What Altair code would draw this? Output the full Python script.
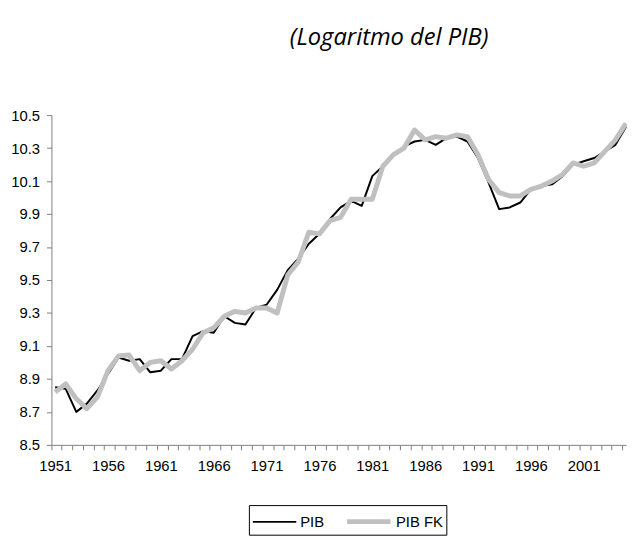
import altair as alt
import pandas as pd

years = list(range(1951, 2006))
pib = [8.85, 8.84, 8.70, 8.75, 8.83, 8.93, 9.03, 9.01, 9.02, 8.94,
       8.95, 9.02, 9.02, 9.16, 9.19, 9.18, 9.28, 9.24, 9.23, 9.33,
       9.35, 9.44, 9.56, 9.63, 9.72, 9.78, 9.87, 9.94, 9.98, 9.95,
       10.13, 10.19, 10.26, 10.31, 10.34, 10.35, 10.32, 10.36, 10.37, 10.34,
       10.24, 10.09, 9.93, 9.94, 9.97, 10.05, 10.07, 10.08, 10.13, 10.20,
       10.22, 10.24, 10.28, 10.32, 10.43]
pib_fk = [8.82, 8.87, 8.78, 8.72, 8.79, 8.95, 9.04, 9.045, 8.95, 9.00,
          9.01, 8.96, 9.01, 9.08, 9.18, 9.21, 9.28, 9.31, 9.30, 9.33,
          9.33, 9.30, 9.53, 9.61, 9.79, 9.78, 9.86, 9.88, 9.99, 9.99,
          9.99, 10.19, 10.26, 10.30, 10.41, 10.35, 10.37, 10.36, 10.38, 10.37,
          10.26, 10.11, 10.03, 10.01, 10.01, 10.05, 10.07, 10.10, 10.14, 10.21,
          10.19, 10.21, 10.28, 10.35, 10.45]
series_names = ["PIB", "PIB FK"]
y_ticks = [8.5, 8.7, 8.9, 9.1, 9.3, 9.5, 9.7, 9.9, 10.1, 10.3, 10.5]

df = pd.DataFrame({
    "year": years + years,
    "value": pib + pib_fk,
    "series": [series_names[0]] * len(years) + [series_names[1]] * len(years),
})

font = "Liberation Sans"
axis_color = "#808080"

chart = alt.Chart(
    df,
    title=alt.TitleParams(
        "(Logaritmo del PIB)", font="Open Sans", fontStyle="italic", fontWeight="normal",
        fontSize=24, anchor="middle", dx=51, offset=59, color="black",
    ),
).mark_line(strokeJoin="round").encode(
    x=alt.X(
        "year:Q",
        scale=alt.Scale(domain=[1950.65, 2005], nice=False, zero=False),
        axis=alt.Axis(
            values=years, format="d", title=None, grid=False,
            labelExpr="(datum.value - 1951) % 5 == 0 ? datum.label : ''",
            tickSize=5, tickOffset=-4, labelOffset=4, labelPadding=9,
            labelFont=font, labelFontSize=15, labelColor="black",
            domainColor=axis_color, tickColor=axis_color, labelFlush=False,
            labelOverlap=False,
        ),
    ),
    y=alt.Y(
        "value:Q",
        scale=alt.Scale(domain=[8.5, 10.5], nice=False, zero=False),
        axis=alt.Axis(
            values=y_ticks, format=".1f", title=None, grid=False,
            tickSize=5, labelPadding=7, labelFont=font, labelFontSize=15,
            labelColor="black", domainColor=axis_color, tickColor=axis_color,
            labelFlush=False,
        ),
    ),
    color=alt.Color(
        "series:N",
        scale=alt.Scale(domain=series_names, range=["#000000", "#c0c0c0"]),
        legend=alt.Legend(title=None),
    ),
    strokeWidth=alt.StrokeWidth(
        "series:N",
        scale=alt.Scale(domain=series_names, range=[2, 5]),
        legend=alt.Legend(title=None),
    ),
).properties(
    width=582,
    height=334,
    padding={"left": 44, "top": 105, "right": 1, "bottom": 105},
    autosize=alt.AutoSizeParams(type="none"),
).configure_view(
    stroke=None
).configure_legend(
    orient="none", legendX=200, legendY=395, direction="horizontal",
    strokeColor="black", fillColor="white", padding=3, cornerRadius=0,
    symbolType="M-1,0H3", symbolSize=484, labelFont=font, labelFontSize=15,
    labelColor="black", labelOffset=25, columnPadding=12, symbolOpacity=1,
)

chart.save("out.html", embed_options={"renderer": "svg", "actions": False})
